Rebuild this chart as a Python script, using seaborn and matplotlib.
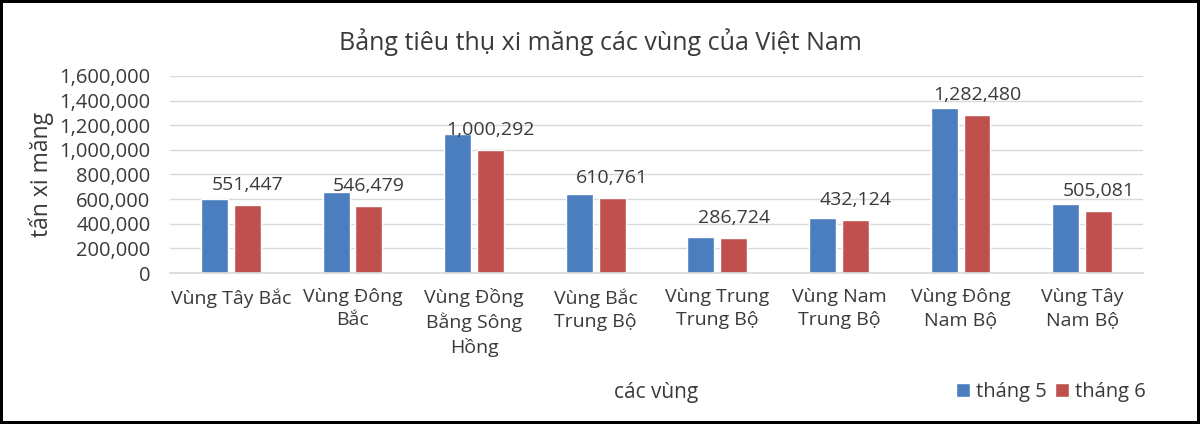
import pandas as pd
import numpy as np
import matplotlib.pyplot as plt
import seaborn as sns

# data
regions = [
    "Vùng Tây Bắc",
    "Vùng Đông\nBắc",
    "Vùng Đồng\nBằng Sông\nHồng",
    "Vùng Bắc\nTrung Bộ",
    "Vùng Trung\nTrung Bộ",
    "Vùng Nam\nTrung Bộ",
    "Vùng Đông\nNam Bộ",
    "Vùng Tây\nNam Bộ",
]
thang5 = [600000, 658000, 1128000, 640000, 294000, 448000, 1336000, 559000]
thang6 = [551447, 546479, 1000292, 610761, 286724, 432124, 1282480, 505081]
series = ["tháng 5", "tháng 6"]

df = pd.DataFrame({
    "region": regions * 2,
    "value": thang5 + thang6,
    "month": [series[0]] * len(regions) + [series[1]] * len(regions),
})

sns.set_theme(style="white")
plt.rcParams['font.family'] = ['Open Sans', 'DejaVu Sans']
text_color = '#3a3a3a'

fig = plt.figure(figsize=(12, 4.24), dpi=100, linewidth=3, edgecolor='black')
ax = fig.add_axes([0.1417, 0.356, 0.8108, 0.465])

sns.barplot(
    data=df,
    x='region',
    y='value',
    hue='month',
    palette=['#4A7EBF', '#C0504D'],
    width=0.54,
    gap=0.18,
    saturation=1,
    ax=ax,
    legend=True,
)

ax.set_ylim(0, 1600000)
ax.set_yticks(np.arange(0, 1600001, 200000))
ax.set_yticklabels([f"{int(v):,}" for v in np.arange(0, 1600001, 200000)])
ax.grid(axis='y', color='#D9D9D9', linewidth=1)
ax.set_axisbelow(True)
for s in ['top', 'right', 'left']:
    ax.spines[s].set_visible(False)
ax.spines['bottom'].set_color('#D9D9D9')
ax.tick_params(axis='both', length=0, colors=text_color)
ax.tick_params(axis='y', labelsize=14.5, pad=14)
ax.tick_params(axis='x', labelsize=14, pad=11)
for lbl in ax.get_xticklabels():
    lbl.set_linespacing(1.35)

# data labels on tháng 6 only
ax.bar_label(ax.containers[1], labels=[f"{v:,}" for v in thang6],
             padding=8, fontsize=14, color=text_color)

ax.set_xlabel('')
ax.set_ylabel('tấn xi măng', fontsize=16.5, color=text_color, labelpad=4)
fig.text(0.547, 0.075, 'các vùng', ha='center', va='center',
         fontsize=15, color=text_color)
fig.text(0.5, 0.9, 'Bảng tiêu thụ xi măng các vùng của Việt Nam',
         ha='center', va='center', fontsize=18, color=text_color)

handles, labels = ax.get_legend_handles_labels()
ax.legend_.remove()
fig.legend(handles, labels, loc='center right', bbox_to_anchor=(0.97, 0.075),
           ncol=2, frameon=False, fontsize=14.5, handlelength=0.7,
           handleheight=0.7, handletextpad=0.3, columnspacing=0.4,
           labelcolor=text_color)

fig.savefig('out.png', dpi=100)
